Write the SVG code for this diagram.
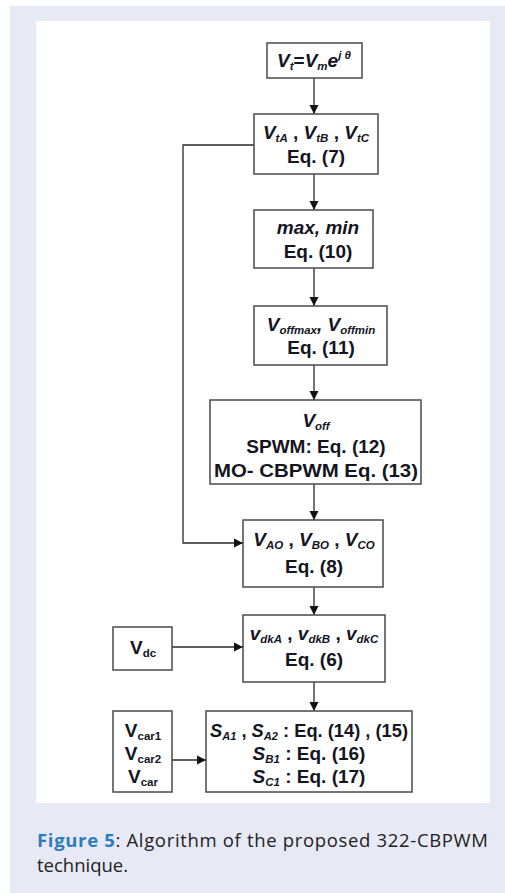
<svg xmlns="http://www.w3.org/2000/svg" width="505" height="893" viewBox="0 0 505 893">
<defs>
<style>
.box{fill:#ffffff;stroke:#4a4a4a;stroke-width:1.5}
.ln{fill:none;stroke:#2a2a2a;stroke-width:1.3}
.t{font-family:"Liberation Sans",Arial,sans-serif;font-weight:bold;font-size:19px;fill:#15151f;text-anchor:middle}
.i{font-style:italic}
.s{font-size:11.5px;font-style:italic}
.sn{font-size:11.5px}
.cap{font-family:"Open Sans","Noto Sans",sans-serif;font-size:18.5px;fill:#222}
</style>
<marker id="ah" markerWidth="9" markerHeight="12" refX="9" refY="6" orient="auto" markerUnits="userSpaceOnUse">
<path d="M0,1.5 L9,6 L0,10.5 Z" fill="#111"/>
</marker>
</defs>
<rect x="10" y="6" width="495" height="887" fill="#e7eaf5"/>
<rect x="36" y="21" width="454" height="782" fill="#ffffff"/>

<g id="connectors">
<line class="ln" x1="314" y1="78" x2="314" y2="114" marker-end="url(#ah)"/>
<line class="ln" x1="314" y1="174" x2="314" y2="210" marker-end="url(#ah)"/>
<line class="ln" x1="314" y1="268" x2="314" y2="306" marker-end="url(#ah)"/>
<line class="ln" x1="314" y1="365" x2="314" y2="400" marker-end="url(#ah)"/>
<line class="ln" x1="314" y1="484" x2="314" y2="520" marker-end="url(#ah)"/>
<line class="ln" x1="314" y1="587" x2="314" y2="615" marker-end="url(#ah)"/>
<line class="ln" x1="314" y1="682" x2="314" y2="711" marker-end="url(#ah)"/>
<polyline class="ln" points="254,145 183,145 183,543 243,543" marker-end="url(#ah)"/>
<line class="ln" x1="172" y1="647" x2="243" y2="647" marker-end="url(#ah)"/>
<line class="ln" x1="172" y1="760" x2="206" y2="760" marker-end="url(#ah)"/>
</g>

<g id="n1">
<rect class="box" x="267" y="43" width="95" height="35"/>
<text class="t" x="314" y="67" font-size="20"><tspan class="i">V</tspan><tspan class="s" dy="3">t</tspan><tspan dy="-3">=</tspan><tspan class="i">V</tspan><tspan class="s" dy="3">m</tspan><tspan class="i" dy="-3">e</tspan><tspan class="s" dy="-8">j θ</tspan></text>
</g>

<g id="n2">
<rect class="box" x="254" y="114" width="124" height="60"/>
<text class="t" x="316" y="139"><tspan class="i">V</tspan><tspan class="s" dy="3">tA</tspan><tspan dy="-3"> , </tspan><tspan class="i">V</tspan><tspan class="s" dy="3">tB</tspan><tspan dy="-3"> , </tspan><tspan class="i">V</tspan><tspan class="s" dy="3">tC</tspan></text>
<text class="t" x="316" y="163">Eq. (7)</text>
</g>

<g id="n3">
<rect class="box" x="254" y="210" width="119" height="58"/>
<text class="t i" x="318" y="234">max, min</text>
<text class="t" x="318" y="258">Eq. (10)</text>
</g>

<g id="n4">
<rect class="box" x="254" y="306" width="133" height="59"/>
<text class="t" x="321" y="331"><tspan class="i">V</tspan><tspan class="s" dy="3">offmax</tspan><tspan class="i" dy="-3">, V</tspan><tspan class="s" dy="3">offmin</tspan></text>
<text class="t" x="321" y="354">Eq. (11)</text>
</g>

<g id="n5">
<rect class="box" x="210" y="400" width="211" height="84"/>
<text class="t" x="316" y="427"><tspan class="i">V</tspan><tspan class="s" dy="3">off</tspan></text>
<text class="t" x="316" y="453">SPWM: Eq. (12)</text>
<text class="t" x="316" y="477" textLength="204" lengthAdjust="spacingAndGlyphs">MO- CBPWM Eq. (13)</text>
</g>

<g id="n6">
<rect class="box" x="243" y="520" width="140" height="67"/>
<text class="t" x="314" y="546"><tspan class="i">V</tspan><tspan class="s" dy="3">AO</tspan><tspan dy="-3"> , </tspan><tspan class="i">V</tspan><tspan class="s" dy="3">BO</tspan><tspan dy="-3"> , </tspan><tspan class="i">V</tspan><tspan class="s" dy="3">CO</tspan></text>
<text class="t" x="314" y="573">Eq. (8)</text>
</g>

<g id="n7">
<rect class="box" x="243" y="615" width="142" height="67"/>
<text class="t" x="314" y="640"><tspan class="i">v</tspan><tspan class="s" dy="3">dkA</tspan><tspan dy="-3"> , </tspan><tspan class="i">v</tspan><tspan class="s" dy="3">dkB</tspan><tspan dy="-3"> , </tspan><tspan class="i">v</tspan><tspan class="s" dy="3">dkC</tspan></text>
<text class="t" x="314" y="666">Eq. (6)</text>
</g>

<g id="n8">
<rect class="box" x="113" y="627" width="59" height="43"/>
<text class="t" x="143" y="654">V<tspan class="sn" dy="3">dc</tspan></text>
</g>

<g id="n9">
<rect class="box" x="206" y="711" width="206" height="81"/>
<text class="t" x="309" y="737" textLength="198" lengthAdjust="spacingAndGlyphs"><tspan class="i">S</tspan><tspan class="s" dy="3">A1</tspan><tspan dy="-3"> , </tspan><tspan class="i">S</tspan><tspan class="s" dy="3">A2</tspan><tspan dy="-3"> : Eq. (14) , (15)</tspan></text>
<text class="t" x="309" y="760"><tspan class="i">S</tspan><tspan class="s" dy="3">B1</tspan><tspan dy="-3"> : Eq. (16)</tspan></text>
<text class="t" x="309" y="783"><tspan class="i">S</tspan><tspan class="s" dy="3">C1</tspan><tspan dy="-3"> : Eq. (17)</tspan></text>
</g>

<g id="n10">
<rect class="box" x="113" y="711" width="59" height="81"/>
<text class="t" x="143" y="737" font-size="16">V<tspan class="sn" dy="3">car1</tspan></text>
<text class="t" x="143" y="760" font-size="16">V<tspan class="sn" dy="3">car2</tspan></text>
<text class="t" x="143" y="783" font-size="16">V<tspan class="sn" dy="3">car</tspan></text>
</g>

<text class="cap" x="37" y="847" textLength="451" lengthAdjust="spacing"><tspan font-weight="bold" fill="#2f7bbd">Figure 5</tspan>: Algorithm of the proposed 322-CBPWM</text>
<text class="cap" x="37" y="872">technique.</text>
</svg>
